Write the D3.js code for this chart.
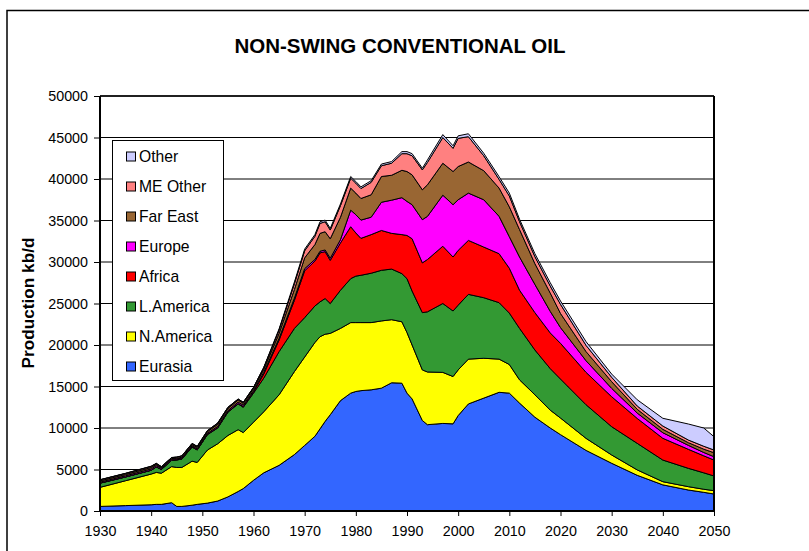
<!DOCTYPE html>
<head>
<meta charset="utf-8">
<title>Non-swing conventional oil</title>
<style>
body { margin: 0; background: #fff; }
svg { display: block; font-family: "Liberation Sans", Arial, sans-serif; }
</style>
<script src="https://cdn.jsdelivr.net/npm/d3@7/dist/d3.min.js"></script>
</head>
<body>
<svg id="chart" width="809" height="551"></svg>
<script>
// production, kb/d
var years =     [1930,1935,1940,1941,1942,1944,1945,1946,1948,1949,1951,1953,1955,1957,1958,1960,1962,1965,1968,1970,1972,1973,1974,1975,1977,1979,1980,1981,1983,1985,1987,1989,1990,1991,1993,1994,1997,1999,2000,2002,2005,2008,2010,2012,2015,2018,2020,2025,2030,2035,2040,2045,2048,2050];
var eurasia =   [550,650,750,800,800,1000,550,550,700,800,950,1200,1700,2350,2700,3700,4600,5500,6800,7900,9000,9900,10800,11600,13300,14200,14400,14500,14600,14800,15450,15400,14200,13500,10900,10400,10550,10500,11500,12900,13600,14300,14200,13000,11300,10000,9200,7300,5750,4300,3150,2530,2250,2050];
var nAmerica =  [2300,3000,3700,3850,3750,4350,4700,4700,5300,5050,6400,6900,7400,7450,6750,7000,7350,8500,10000,10650,11300,11100,10500,9800,8700,8500,8300,8200,8100,8100,7600,7400,7300,6500,6100,6350,6150,5700,5500,5400,4800,4000,3450,2800,2700,2150,2000,1450,1000,650,380,400,370,400];
var lAmerica =  [500,450,450,650,450,750,900,1000,1700,1500,1850,1900,2800,3100,3050,3500,4050,5200,5200,4750,4400,4200,4300,3600,4600,5300,5600,5700,5950,6100,6100,5800,6500,6500,6900,7250,8300,7900,7800,7800,7300,6800,6200,6200,5400,5000,4700,4050,3410,3200,2610,2210,1980,1770];
var africa =    [10,10,20,20,20,20,20,20,30,30,40,40,50,50,80,150,500,1400,3400,5650,5400,5900,5650,5200,5700,6250,5200,4450,4650,4800,4300,4700,5200,6300,6000,6300,6900,6500,6600,6500,6100,5900,5400,4600,4500,4300,4300,3900,3610,3000,2620,2290,2050,1920];
var europe =    [120,130,150,150,130,120,100,110,120,120,120,150,150,170,170,150,200,200,250,250,200,200,200,250,400,2000,2200,2200,2100,3400,4000,4450,4100,4100,5200,5200,6150,6300,6100,5700,5700,4500,3800,4000,3400,2600,1900,1400,1010,650,670,480,400,400];
var farEast =   [150,160,170,150,80,80,80,100,150,160,200,250,250,250,230,250,350,600,1050,1300,1800,2150,2200,2350,2700,2650,2600,2600,2700,3100,3000,3300,3600,3600,3600,3800,3850,4000,4000,3750,3500,3400,3600,3300,2500,2200,1700,1100,800,450,410,320,400,480];
var meOther =   [120,120,130,100,100,110,130,150,120,110,110,130,120,100,100,120,200,400,700,850,1000,1200,1200,1050,1400,1200,1200,1200,1500,1300,1450,2000,2150,2300,2400,2700,3100,2800,3400,3050,1800,1050,1300,950,850,850,1100,750,530,400,400,320,350,330];
var other =     [30,30,30,30,20,20,20,20,30,30,30,30,30,30,20,30,50,150,200,200,200,200,200,200,200,200,200,200,200,200,200,250,250,250,200,300,350,300,300,350,300,330,350,300,350,400,400,450,390,750,930,1930,2200,1600];

var names =  ["Eurasia","N.America","L.America","Africa","Europe","Far East","ME Other","Other"];
var colors = ["#3366ff","#ffff00","#339933","#ff0000","#ff00ff","#996633","#ff8080","#ccccff"];
var series = [eurasia,nAmerica,lAmerica,africa,europe,farEast,meOther,other];

var yTicks = d3.range(0, 50001, 5000);
var xTicks = d3.range(1930, 2051, 10);

var rows = years.map(function(yr, i) {
  var r = {year: yr};
  names.forEach(function(n, j) { r[n] = series[j][i]; });
  return r;
});

var svg = d3.select("#chart");
var pL = 100, pR = 714, pT = 96, pB = 511;

var x = d3.scaleLinear().domain([1930, 2050]).range([pL, pR]);
var y = d3.scaleLinear().domain([0, 50000]).range([pB, pT]);

// outer frame
svg.append("rect")
  .attr("x", 7).attr("y", 10.5).attr("width", 830).attr("height", 560)
  .attr("fill", "none").attr("stroke", "#000").attr("stroke-width", 1.5);

svg.append("text")
  .attr("x", 400).attr("y", 53)
  .attr("text-anchor", "middle")
  .attr("font-weight", "bold").attr("font-size", "20.5px")
  .text("NON-SWING CONVENTIONAL OIL");

// gridlines
svg.append("g").selectAll("line")
  .data(yTicks.slice(1))
  .enter().append("line")
  .attr("x1", pL).attr("x2", pR)
  .attr("y1", function(d) { return y(d); })
  .attr("y2", function(d) { return y(d); })
  .attr("stroke", "#000").attr("stroke-width", 1);

var stack = d3.stack().keys(names);
var layers = stack(rows);

var area = d3.area()
  .x(function(d) { return x(d.data.year); })
  .y0(function(d) { return y(d[0]); })
  .y1(function(d) { return y(d[1]); });

svg.append("g").selectAll("path")
  .data(layers)
  .enter().append("path")
  .attr("d", area)
  .attr("fill", function(d, i) { return colors[i]; })
  .attr("stroke", "#000").attr("stroke-width", 1)
  .attr("stroke-linejoin", "round");

// axes
var yAxis = svg.append("g")
  .attr("transform", "translate(" + pL + ",0)")
  .call(d3.axisLeft(y).tickValues(yTicks).tickSize(6).tickPadding(6).tickSizeOuter(0).tickFormat(d3.format("d")));
var xAxis = svg.append("g")
  .attr("transform", "translate(0," + pB + ")")
  .call(d3.axisBottom(x).tickValues(xTicks).tickSize(5).tickPadding(10).tickSizeOuter(0).tickFormat(d3.format("d")));

[yAxis, xAxis].forEach(function(a) {
  a.select(".domain").remove();
  a.selectAll("text").attr("font-size", "14.3px").attr("font-family", "Liberation Sans, Arial, sans-serif").attr("fill", "#000");
  a.selectAll("line").attr("stroke", "#000");
});

// plot borders
svg.append("line").attr("x1", pL).attr("x2", pL).attr("y1", pT).attr("y2", pB + 1).attr("stroke", "#000").attr("stroke-width", 2);
svg.append("line").attr("x1", pL - 1).attr("x2", pR + 1).attr("y1", pB).attr("y2", pB).attr("stroke", "#000").attr("stroke-width", 2);
svg.append("line").attr("x1", pR).attr("x2", pR).attr("y1", pT).attr("y2", pB + 1).attr("stroke", "#000").attr("stroke-width", 2);
svg.append("line").attr("x1", pL).attr("x2", pR).attr("y1", pT).attr("y2", pT).attr("stroke", "#000").attr("stroke-width", 1.5);

svg.append("text")
  .attr("transform", "translate(34,303) rotate(-90)")
  .attr("text-anchor", "middle")
  .attr("font-weight", "bold").attr("font-size", "17.2px")
  .text("Production kb/d");

// legend
var lg = svg.append("g");
lg.append("rect")
  .attr("x", 112.5).attr("y", 140.5).attr("width", 111).attr("height", 240)
  .attr("fill", "#fff").attr("stroke", "#000").attr("stroke-width", 1);

var items = lg.selectAll("g.item")
  .data(names.slice().reverse())
  .enter().append("g")
  .attr("transform", function(d, i) { return "translate(0," + (156.5 + i * 30) + ")"; });

items.append("rect")
  .attr("x", 126.5).attr("y", -4.5).attr("width", 9).attr("height", 9)
  .attr("fill", function(d) { return colors[names.indexOf(d)]; })
  .attr("stroke", "#000").attr("stroke-width", 1);

items.append("text")
  .attr("x", 139).attr("y", 5.5)
  .attr("font-size", "15.7px")
  .text(function(d) { return d; });
</script>
</body>
